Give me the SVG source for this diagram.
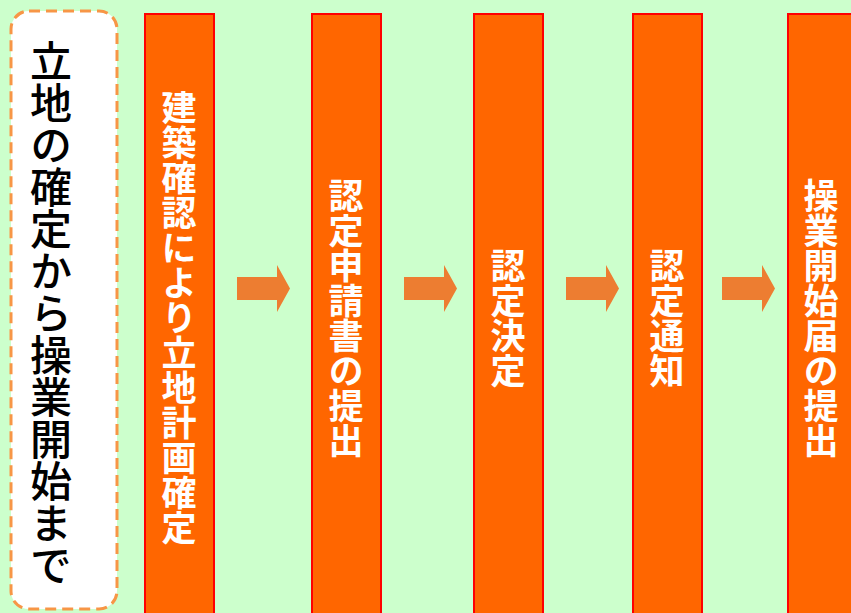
<svg xmlns="http://www.w3.org/2000/svg" width="851" height="613" viewBox="0 0 851 613">
<style>
.col{fill:#ff6600;stroke:#ff0000;stroke-width:2}
.ct{font-family:"Noto Sans CJK JP","Noto Sans CJK SC",sans-serif;font-size:35px;font-weight:bold;fill:#ffffff;writing-mode:vertical-rl;text-anchor:middle}
.lt{font-family:"Noto Sans CJK JP","Noto Sans CJK SC",sans-serif;font-size:42px;font-weight:500;fill:#000000;writing-mode:vertical-rl;text-anchor:middle}
.arr{fill:#ed7d31}
</style>
<rect x="0" y="0" width="851" height="613" fill="#ccffcc"/>
<g id="title">
<rect x="11" y="11" width="106" height="598" rx="18" fill="#ffffff" stroke="#f79646" stroke-width="3" stroke-dasharray="11 6"/>
<text class="lt" x="51" y="313">立地の確定から操業開始まで</text>
</g>
<g id="step1">
<rect class="col" x="145" y="14" width="69" height="610"/>
<text class="ct" x="179" y="318">建築確認により立地計画確定</text>
</g>
<g id="step2">
<rect class="col" x="312" y="14" width="69" height="610"/>
<text class="ct" x="346" y="318">認定申請書の提出</text>
</g>
<g id="step3">
<rect class="col" x="474" y="14" width="69" height="610"/>
<text class="ct" x="508" y="318">認定決定</text>
</g>
<g id="step4">
<rect class="col" x="633" y="14" width="69" height="610"/>
<text class="ct" x="667" y="318">認定通知</text>
</g>
<g id="step5">
<rect class="col" x="788" y="14" width="69" height="610"/>
<text class="ct" x="821" y="318">操業開始届の提出</text>
</g>
<g id="connectors">
<path class="arr" d="M237,277H277V265L290,288.5L277,312V300H237Z"/>
<path class="arr" d="M404,277H444V265L457,288.5L444,312V300H404Z"/>
<path class="arr" d="M566,277H606V265L619,288.5L606,312V300H566Z"/>
<path class="arr" d="M722,277H762V265L775,288.5L762,312V300H722Z"/>
</g>
</svg>
